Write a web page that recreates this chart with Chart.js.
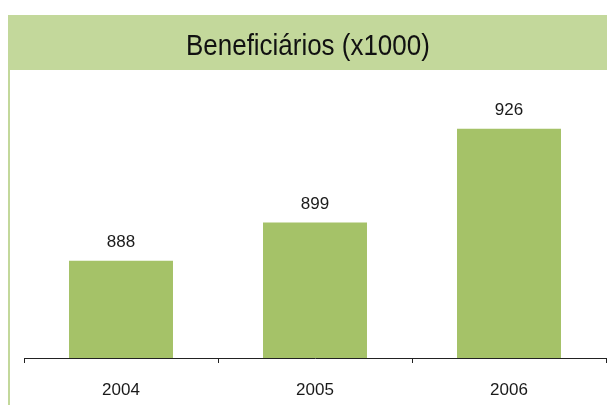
<!DOCTYPE html>
<html>
<head>
<meta charset="utf-8">
<script src="https://cdn.jsdelivr.net/npm/chart.js@4.4.1/dist/chart.umd.min.js"></script>
<style>
  html, body { margin: 0; padding: 0; background: #fff; }
  #wrap { position: relative; width: 607px; height: 405px; overflow: hidden; }
  #banner {
    position: absolute; left: 8px; top: 15px; width: 599px; height: 55px;
    background: #c3d89b; text-align: center; line-height: 55px; padding-top: 2px; box-sizing: border-box;
  }
  #banner span {
    display: inline-block; font-family: "Liberation Sans", Arial, sans-serif; font-size: 30px;
    color: #111; transform: scaleX(0.865); transform-origin: center;
  }
  #edge { position: absolute; left: 8px; top: 70px; width: 2px; height: 335px; background: #c3d89b; }
  #chart { position: absolute; left: 0; top: 0; }
</style>
</head>
<body>
<div id="wrap">
  <canvas id="chart" width="607" height="405"></canvas>
  <div id="banner"><span id="title"></span></div>
  <div id="edge"></div>
</div>
<script>
// ── Data ─────────────────────────────────────────────
const TITLE  = 'Beneficiários (x1000)';
const YEARS  = ['2004', '2005', '2006'];
const VALUES = [888, 899, 926];

const BAR_COLOR = '#a5c268';
const FONT = '"Liberation Sans", Arial, sans-serif';

document.getElementById('title').textContent = TITLE;

// value labels above each bar
const valueLabels = {
  id: 'valueLabels',
  afterDatasetsDraw(chart) {
    const ctx = chart.ctx;
    const meta = chart.getDatasetMeta(0);
    ctx.save();
    ctx.font = '17px ' + FONT;
    ctx.fillStyle = '#1a1a1a';
    ctx.textAlign = 'center';
    ctx.textBaseline = 'bottom';
    meta.data.forEach((bar, i) => {
      ctx.fillText(String(VALUES[i]), bar.x, bar.y - 10);
    });
    ctx.restore();
  }
};

new Chart(document.getElementById('chart'), {
  type: 'bar',
  data: {
    labels: YEARS,
    datasets: [{
      data: VALUES,
      backgroundColor: BAR_COLOR,
      borderWidth: 0,
      categoryPercentage: 1,
      barPercentage: 0.536,
    }]
  },
  options: {
    responsive: false,
    animation: false,
    devicePixelRatio: 1,
    layout: { padding: { left: 24, right: 1, top: 80, bottom: 0 } },
    plugins: { legend: { display: false }, tooltip: { enabled: false } },
    scales: {
      x: {
        offset: true,
        afterFit: s => { s.height = 47; },
        grid: {
          offset: true, drawOnChartArea: false, drawTicks: true,
          tickLength: 5, color: '#222', lineWidth: 1
        },
        border: { display: true, color: '#222', width: 1 },
        ticks: { color: '#1a1a1a', font: { family: FONT, size: 17 }, padding: 17 }
      },
      y: { display: false, min: 860, max: 940 }
    }
  },
  plugins: [valueLabels]
});
</script>
</body>
</html>
